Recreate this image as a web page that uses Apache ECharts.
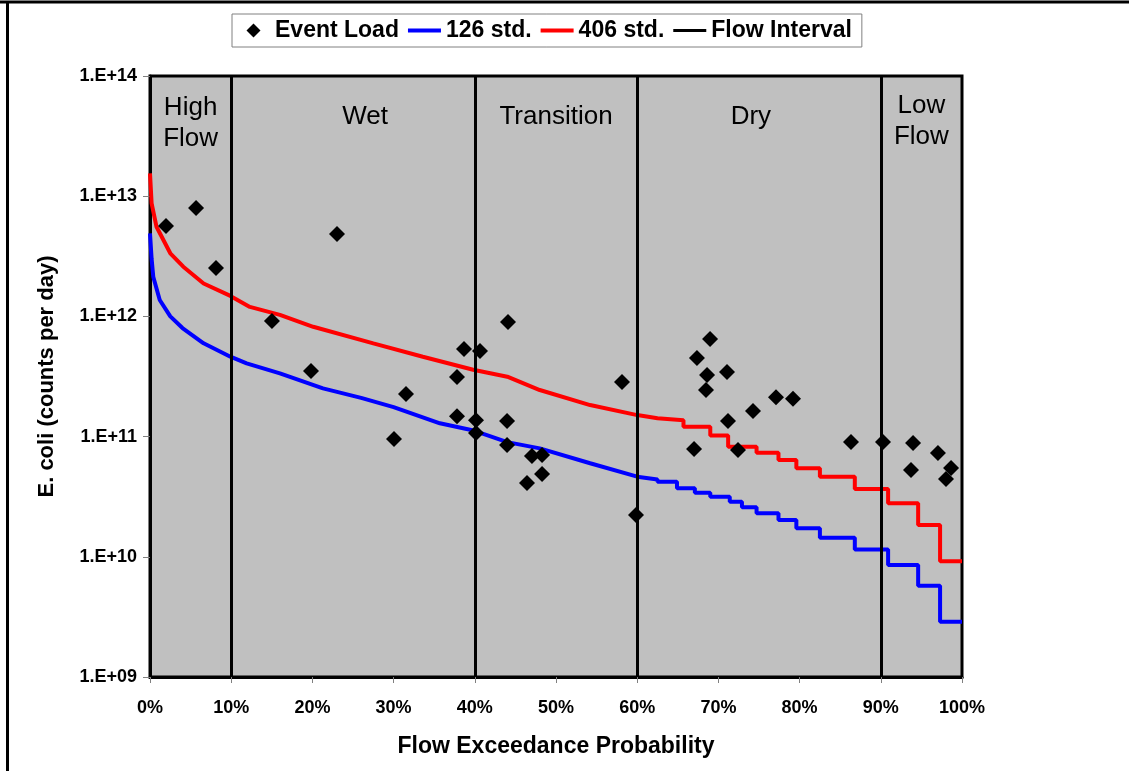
<!DOCTYPE html>
<html>
<head>
<meta charset="utf-8">
<script src="https://cdn.jsdelivr.net/npm/echarts@6.0.0/dist/echarts.min.js"></script>
<style>
  html, body { margin: 0; padding: 0; background: #fff; }
  #chart { width: 1129px; height: 771px; }
</style>
</head>
<body>
<div id="chart"></div>
<script>
// flow exceedance (%) vs E. coli load (counts/day)
const std126 = [
  [0, 4.9e12], [0.2, 3.0e12], [0.4, 2.14e12], [1.2, 1.37e12], [2.5, 1.0e12],
  [4.0, 8.0e11], [6.6, 5.97e11], [9.9, 4.62e11], [11.9, 4.07e11], [16.0, 3.36e11],
  [21.3, 2.52e11], [26.0, 2.1e11], [30.0, 1.76e11], [35.7, 1.29e11], [39.7, 1.13e11],
  [44.0, 9.0e10], [48.0, 7.98e10], [54.2, 6.0e10], [60.0, 4.64e10], [62.5, 4.4e10],
  [62.5, 4.22e10], [64.9, 4.22e10], [64.9, 3.72e10], [67.1, 3.72e10], [67.1, 3.41e10],
  [69.0, 3.41e10], [69.0, 3.16e10], [71.4, 3.16e10], [71.4, 2.87e10], [72.9, 2.87e10],
  [72.9, 2.58e10], [74.7, 2.58e10], [74.7, 2.30e10], [77.4, 2.30e10], [77.4, 2.02e10],
  [79.6, 2.02e10], [79.6, 1.73e10], [82.5, 1.73e10], [82.5, 1.44e10], [86.8, 1.44e10],
  [86.8, 1.15e10], [90.9, 1.15e10], [90.9, 8.55e9], [94.6, 8.55e9], [94.6, 5.75e9],
  [97.3, 5.75e9], [97.3, 2.88e9], [100, 2.88e9]
];

const std406 = [
  [0, 1.55e13], [0.2, 8.73e12], [0.8, 5.57e12], [2.5, 3.35e12], [4.1, 2.59e12],
  [6.6, 1.88e12], [9.9, 1.48e12], [12.3, 1.20e12], [16.0, 1.03e12], [20.1, 8.2e11],
  [27.5, 5.97e11], [33.6, 4.62e11], [39.8, 3.6e11], [44.0, 3.15e11], [48.0, 2.44e11],
  [54.2, 1.83e11], [60.0, 1.51e11], [62.5, 1.42e11], [62.5, 1.37e11], [65.7, 1.37e11],
  [65.7, 1.21e11], [69.0, 1.21e11], [69.0, 1.02e11], [71.2, 1.02e11], [71.2, 8.24e10],
  [74.7, 8.24e10], [74.7, 7.35e10], [77.4, 7.35e10], [77.4, 6.38e10], [79.6, 6.38e10],
  [79.6, 5.45e10], [82.5, 5.45e10], [82.5, 4.64e10], [86.8, 4.64e10], [86.8, 3.66e10],
  [90.9, 3.66e10], [90.9, 2.79e10], [94.6, 2.79e10], [94.6, 1.84e10], [97.3, 1.84e10],
  [97.3, 9.2e9], [100, 9.2e9]
];

const eventLoad = [
  [1.97, 5.65e12], [5.67, 7.98e12], [8.13, 2.53e12], [23.03, 4.85e12], [15.02, 9.16e11],
  [19.83, 3.52e11], [31.53, 2.26e11], [30.05, 9.55e10], [37.81, 3.13e11], [38.67, 5.36e11],
  [40.64, 5.15e11], [37.81, 1.48e11], [40.15, 1.37e11], [40.15, 1.07e11], [44.09, 8.98e11],
  [43.97, 1.35e11], [43.97, 8.51e10], [47.04, 6.90e10], [48.28, 7.03e10], [48.28, 4.89e10],
  [46.43, 4.11e10], [58.13, 2.85e11], [59.85, 2.23e10], [68.97, 6.49e11], [67.36, 4.51e11],
  [68.60, 3.25e11], [71.06, 3.45e11], [68.47, 2.44e11], [71.18, 1.35e11], [67.00, 7.89e10],
  [72.41, 7.74e10], [74.26, 1.63e11], [77.09, 2.13e11], [79.19, 2.06e11], [86.33, 9.02e10],
  [90.27, 9.02e10], [93.97, 8.85e10], [93.72, 5.28e10], [97.04, 7.31e10], [98.65, 5.48e10],
  [98.03, 4.44e10]
];

const flowBreaks = [10, 40, 60, 90];

const zoneNames = ['High\nFlow', 'Wet', 'Transition', 'Dry', 'Low\nFlow'];
const zoneX = [5, 26.5, 50, 74, 95];
const zoneY = [4.06e13, 4.58e13, 4.58e13, 4.58e13, 4.2e13];

const yTickLabels = { 9: '1.E+09', 10: '1.E+10', 11: '1.E+11', 12: '1.E+12', 13: '1.E+13', 14: '1.E+14' };

const chart = echarts.init(document.getElementById('chart'), null, { renderer: 'canvas' });

const font = 'Arial, "Liberation Sans", sans-serif';

// legend icons: moveTo corners keep the full 33x15 box so the shape sits centred
const diamondIcon = 'path://M0,0M33,15M16.5,0.5L23.5,7.5L16.5,14.5L9.5,7.5Z';
const thickLine = 'path://M0,0M33,15M0,5.5L33,5.5L33,9.5L0,9.5Z';
const thinLine = 'path://M0,0M33,15M0,6L33,6L33,9L0,9Z';

const option = {
  animation: false,
  backgroundColor: '#ffffff',
  textStyle: { fontFamily: font },
  graphic: [
    { type: 'line', shape: { x1: 0, y1: 2, x2: 1129, y2: 2 }, style: { stroke: '#000', lineWidth: 3 } },
    { type: 'line', shape: { x1: 7.5, y1: 2, x2: 7.5, y2: 771 }, style: { stroke: '#000', lineWidth: 3 } }
  ],
  legend: {
    data: [
      { name: 'Event Load', icon: diamondIcon },
      { name: '126 std.', icon: thickLine },
      { name: '406 std.', icon: thickLine },
      { name: 'Flow Interval', icon: thinLine }
    ],
    left: 232,
    top: 14,
    orient: 'horizontal',
    backgroundColor: '#ffffff',
    borderColor: '#808080',
    borderWidth: 1,
    padding: [5, 10, 5, 5],
    itemGap: 9,
    itemWidth: 33,
    itemHeight: 15,
    textStyle: { fontFamily: font, fontWeight: 'bold', fontSize: 23, color: '#000' }
  },
  grid: {
    left: 150,
    right: 167,
    top: 76,
    bottom: 94,
    show: true,
    backgroundColor: '#c0c0c0',
    borderColor: '#000',
    borderWidth: 3,
    containLabel: false,
    outerBoundsMode: 'none'
  },
  xAxis: {
    type: 'value',
    min: 0,
    max: 100,
    interval: 10,
    name: 'Flow Exceedance Probability',
    nameLocation: 'middle',
    nameGap: 58,
    nameTextStyle: { fontFamily: font, fontWeight: 'bold', fontSize: 23, color: '#000' },
    axisLine: { show: true, lineStyle: { color: '#000', width: 3 } },
    axisTick: { show: true, inside: false, length: 6, lineStyle: { color: '#808080', width: 1 } },
    axisLabel: {
      margin: 22,
      fontFamily: font, fontWeight: 'bold', fontSize: 18, color: '#000',
      formatter: v => v + '%'
    },
    splitLine: { show: false }
  },
  yAxis: {
    type: 'log',
    logBase: 10,
    min: 1e9,
    max: 1e14,
    name: 'E. coli (counts per day)',
    nameLocation: 'middle',
    nameGap: 92,
    nameTextStyle: { fontFamily: font, fontWeight: 'bold', fontSize: 22, color: '#000' },
    axisLine: { show: true, lineStyle: { color: '#000', width: 3 } },
    axisTick: { show: true, inside: false, length: 7, lineStyle: { color: '#808080', width: 1 } },
    axisLabel: {
      margin: 13,
      fontFamily: font, fontWeight: 'bold', fontSize: 18, color: '#000',
      formatter: v => yTickLabels[Math.round(Math.log10(v))] || ''
    },
    splitLine: { show: false }
  },
  series: [
    {
      name: '126 std.',
      type: 'line',
      data: std126,
      symbol: 'none',
      color: '#0000ff',
      lineStyle: { color: '#0000ff', width: 4 },
      z: 2
    },
    {
      name: '406 std.',
      type: 'line',
      data: std406,
      symbol: 'none',
      color: '#ff0000',
      lineStyle: { color: '#ff0000', width: 4 },
      z: 2
    },
    {
      name: 'Flow Interval',
      type: 'line',
      data: [],
      symbol: 'none',
      color: '#000000',
      lineStyle: { color: '#000000', width: 3 },
      z: 3,
      markLine: {
        silent: true,
        symbol: 'none',
        label: { show: false },
        lineStyle: { color: '#000000', width: 3, type: 'solid' },
        data: flowBreaks.map(v => ({ xAxis: v }))
      }
    },
    {
      name: 'Event Load',
      type: 'scatter',
      data: eventLoad,
      symbol: 'diamond',
      symbolSize: 16,
      color: '#000000',
      itemStyle: { color: '#000000', opacity: 1 },
      z: 4
    },
    {
      name: 'zones',
      type: 'scatter',
      silent: true,
      symbolSize: 1,
      itemStyle: { color: 'rgba(0,0,0,0)', opacity: 1 },
      data: zoneNames.map((n, i) => ({ name: n, value: [zoneX[i], zoneY[i]] })),
      label: {
        show: true,
        position: 'inside',
        formatter: p => p.name,
        fontFamily: font,
        fontSize: 26,
        lineHeight: 31,
        color: '#000',
        align: 'center',
        verticalAlign: 'middle'
      },
      z: 5
    }
  ]
};

chart.setOption(option);
</script>
</body>
</html>
